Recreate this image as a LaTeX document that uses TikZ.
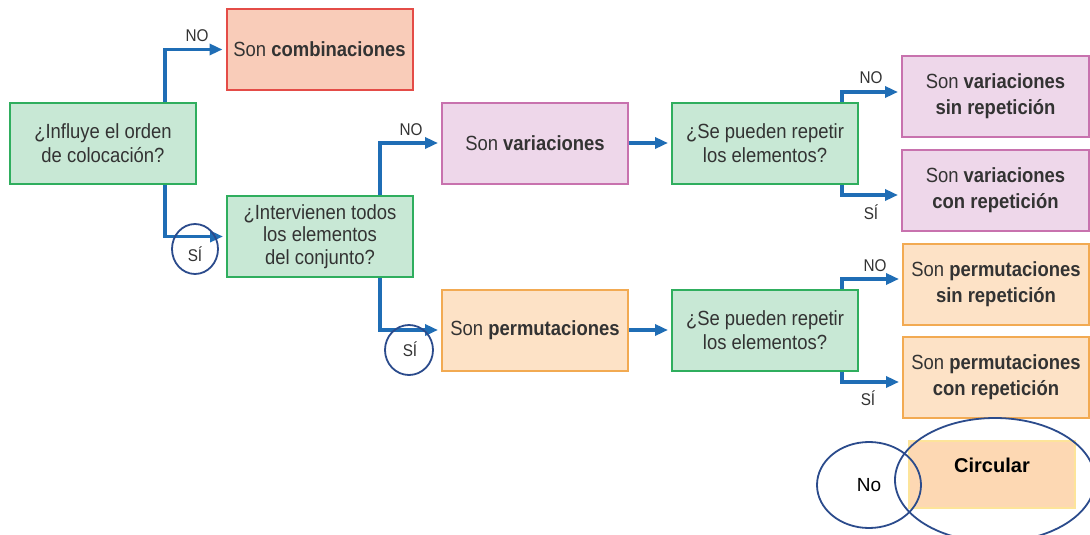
\documentclass[tikz,border=0pt]{standalone}
\usepackage{fontspec}
\setmainfont{Liberation Sans}[FakeStretch=0.9]
\newfontfamily\plainsans{Liberation Sans}
\usetikzlibrary{arrows.meta,shapes.geometric}
\definecolor{txt}{HTML}{333333}
\definecolor{gfill}{HTML}{C8E8D5}
\definecolor{gline}{HTML}{2FAE5E}
\definecolor{sfill}{HTML}{F9CCB9}
\definecolor{sline}{HTML}{E44C47}
\definecolor{pfill}{HTML}{EED7EA}
\definecolor{pline}{HTML}{C872AE}
\definecolor{ofill}{HTML}{FDE2C6}
\definecolor{oline}{HTML}{F2AA52}
\definecolor{arrblue}{HTML}{1F6DB5}
\definecolor{navy}{HTML}{2B4B8C}
\definecolor{cfill}{HTML}{FDD8B3}
\definecolor{cline}{HTML}{FDE49A}
\tikzset{
  boxbase/.style={rectangle, line width=2pt, minimum width=186pt, minimum height=81pt,
    align=center, text=txt, inner sep=2pt, font=\fontsize{20.5}{24}\selectfont},
  qbox/.style={boxbase, draw=gline, fill=gfill},
  cbox/.style={boxbase, draw=sline, fill=sfill},
  vbox/.style={boxbase, draw=pline, fill=pfill},
  obox/.style={boxbase, draw=oline, fill=ofill},
  arr/.style={draw=arrblue, line width=3.5pt, shorten >=3pt,
    -{Triangle[length=13pt,width=11pt]}},
  lab/.style={text=txt, font=\fontsize{17}{20}\selectfont, inner sep=0pt},
  ring/.style={draw=navy, line width=1.8pt},
}
\begin{document}
\begin{tikzpicture}[x=1pt,y=-1pt]
\useasboundingbox[fill=white] (0,0) rectangle (1090,535);

\node[qbox] (A) at (103,143.5) {¿Influye el orden\\de colocación?};
\node[cbox] (comb) at (319.5,49.5) {Son \textbf{combinaciones}};
\node[qbox, font=\fontsize{20.5}{22.5}\selectfont] (B) at (320,236.5) {¿Intervienen todos\\los elementos\\del conjunto?};
\node[vbox] (var) at (535,143) {Son \textbf{variaciones}};
\node[obox] (perm) at (535,330) {Son \textbf{permutaciones}};
\node[qbox] (C1) at (765,143) {¿Se pueden repetir\\los elementos?};
\node[qbox] (C2) at (765,330) {¿Se pueden repetir\\los elementos?};
\node[vbox, minimum width=187pt, font=\fontsize{20.5}{26}\selectfont] (vsr) at (995.5,96.5) {Son \textbf{variaciones}\\\textbf{sin repetición}};
\node[vbox, minimum width=187pt, font=\fontsize{20.5}{26}\selectfont] (vcr) at (995.5,190.5) {Son \textbf{variaciones}\\\textbf{con repetición}};
\node[obox, font=\fontsize{20.5}{26}\selectfont] (psr) at (996,284) {Son \textbf{permutaciones}\\\textbf{sin repetición}};
\node[obox, font=\fontsize{20.5}{26}\selectfont] (pcr) at (996,377) {Son \textbf{permutaciones}\\\textbf{con repetición}};

% connectors
\draw[arr] ([xshift=156pt]A.north west) |- (comb.west);
\draw[arr] ([xshift=156pt]A.south west) |- (B.west);
\draw[arr] ([xshift=154pt]B.north west) |- (var.west);
\draw[arr] ([xshift=154pt]B.south west) |- (perm.west);
\draw[arr] (var.east) -- (C1.west);
\draw[arr] (perm.east) -- (C2.west);
\draw[arr] ([xshift=171pt]C1.north west) |- ([yshift=4.5pt]vsr.west);
\draw[arr] ([xshift=171pt]C1.south west) |- ([yshift=-4.5pt]vcr.west);
\draw[arr] ([xshift=171pt]C2.north west) |- ([yshift=5pt]psr.west);
\draw[arr] ([xshift=171pt]C2.south west) |- ([yshift=-5pt]pcr.west);

% labels
\node[lab] (l1) at (197,36) {NO};
\node[lab] (l2) at (195,254) {SÍ};
\node[lab] (l3) at (411,130) {NO};
\node[lab] (l4) at (410,349) {SÍ};
\node[lab] (l5) at (871,78) {NO};
\node[lab] (l6) at (871,212) {SÍ};
\node[lab] (l7) at (875,266) {NO};
\node[lab] (l8) at (868,398) {SÍ};

% hand-drawn rings
\draw[ring] (195,249) ellipse [x radius=23, y radius=25];
\draw[ring] (409,350) ellipse [x radius=24, y radius=25];

% bottom part
\node[rectangle, draw=cline, fill=cfill, line width=2pt, minimum width=166pt, minimum height=67pt,
  text height=15pt, text depth=20pt,
  font=\plainsans\bfseries\fontsize{20}{24}\selectfont, text=black] (circ) at (992,474.5) {Circular};
\node[ellipse, ring, minimum width=104pt, minimum height=86pt, inner sep=0pt,
  font=\plainsans\fontsize{19}{22}\selectfont, text=black] (no) at (869,485) {No};
\draw[ring] (995,480) ellipse [x radius=100, y radius=62];
\end{tikzpicture}
\end{document}
